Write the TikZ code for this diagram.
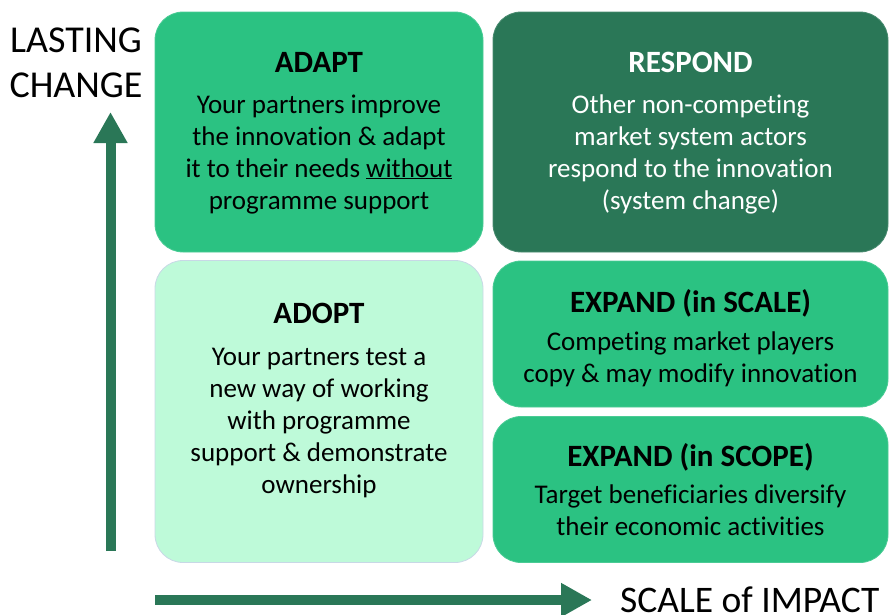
\documentclass[tikz,border=0pt]{standalone}
\usepackage{fontspec}
\setmainfont{Carlito}[Ligatures=NoCommon]
\usetikzlibrary{arrows.meta}
\definecolor{midgreen}{HTML}{2BC282}
\definecolor{darkgreen}{HTML}{2A7757}
\definecolor{lightgreen}{HTML}{BEFAD9}
\definecolor{adoptedge}{HTML}{C8D8E6}
\begin{document}
\begin{tikzpicture}[x=1pt,y=-1pt,
  box/.style={rounded corners=28pt, inner sep=0pt, line width=0.8pt},
  medbox/.style={box, fill=midgreen, draw=midgreen!85!white},
  darkbox/.style={box, fill=darkgreen, draw=darkgreen!85!white},
  lightbox/.style={box, fill=lightgreen, draw=adoptedge},
  title/.style={font=\fontsize{31pt}{34pt}\selectfont\bfseries, anchor=base, inner sep=0pt},
  body/.style={font=\fontsize{27pt}{32pt}\selectfont, align=center, anchor=base, inner sep=0pt},
  axislabel/.style={font=\fontsize{38pt}{45pt}\selectfont, anchor=base, inner sep=0pt},
  axis/.style={draw=darkgreen, line width=10pt, -{Triangle[width=32pt,length=31pt]}}
]
\useasboundingbox (0,0) rectangle (889,614);
% boxes
\node[medbox, minimum width=328pt, minimum height=240pt] (adapt) at (319,132) {};
\node[darkbox, minimum width=395pt, minimum height=240pt] (respond) at (690.5,132) {};
\node[lightbox, minimum width=328pt, minimum height=302pt] (adopt) at (319,411.5) {};
\node[medbox, minimum width=395pt, minimum height=146pt] (scale) at (690.5,334) {};
\node[medbox, minimum width=395pt, minimum height=146pt] (scope) at (690.5,489.5) {};
% texts (body base anchor = last line baseline)
\node[title] (adaptT) at (319,72) {ADAPT};
\node[body] (adaptB) at (319,209) {Your partners improve\\the innovation \& adapt\\it to their needs \underline{without}\\programme support};
\node[title, text=white] (respondT) at (690.5,72) {RESPOND};
\node[body, text=white] (respondB) at (690.5,209) {Other non-competing\\market system actors\\respond to the innovation\\(system change)};
\node[title] (adoptT) at (319,323) {ADOPT};
\node[body] (adoptB) at (319,493) {Your partners test a\\new way of working\\with programme\\support \& demonstrate\\ownership};
\node[title] (scaleT) at (690.5,312) {EXPAND (in SCALE)};
\node[body] (scaleB) at (690.5,382) {Competing market players\\copy \& may modify innovation};
\node[title] (scopeT) at (690.5,466) {EXPAND (in SCOPE)};
\node[body] (scopeB) at (690.5,535) {Target beneficiaries diversify\\their economic activities};
% axis labels
\node[axislabel] (lasting) at (76,52) {LASTING};
\node[axislabel] (change) at (76,97) {CHANGE};
\node[axislabel, anchor=base west, font=\fontsize{37.5pt}{45pt}\selectfont] (impact) at (620,612) {SCALE of IMPACT};
% axes
\coordinate (vstart) at (110.5,551);
\coordinate (vend) at (110.5,112);
\coordinate (hstart) at (155,600);
\coordinate (hend) at (592,600);
\draw[axis] (vstart) -- (vend);
\draw[axis] (hstart) -- (hend);
\end{tikzpicture}
\end{document}
